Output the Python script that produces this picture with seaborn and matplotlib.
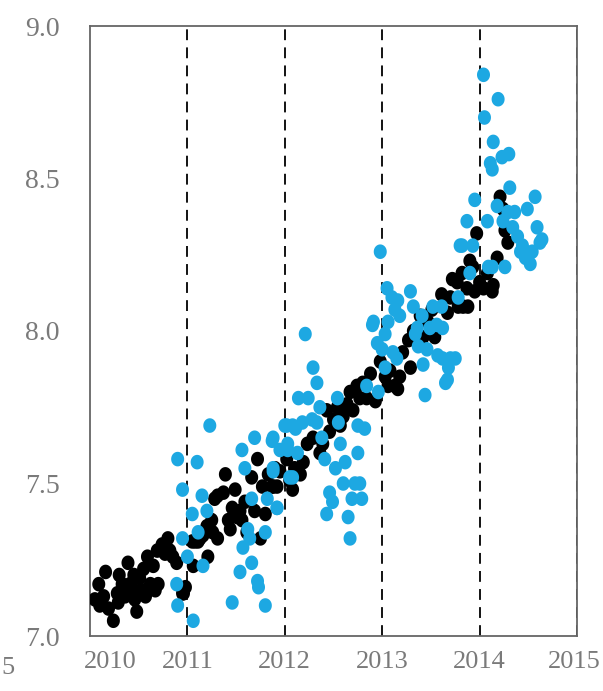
import numpy as np
import pandas as pd
import seaborn as sns
import matplotlib
matplotlib.use("Agg")
import matplotlib.pyplot as plt
from matplotlib.path import Path
from matplotlib.transforms import ScaledTranslation

# ---- data ----
black_x = [2010.05, 2010.09, 2010.10, 2010.14, 2010.16, 2010.19, 2010.24, 2010.28, 2010.29, 2010.30,
           2010.33, 2010.36, 2010.39, 2010.41, 2010.43, 2010.45, 2010.46, 2010.48, 2010.51, 2010.53,
           2010.55, 2010.57, 2010.59, 2010.62, 2010.65, 2010.67, 2010.69, 2010.70, 2010.74, 2010.77,
           2010.80, 2010.82, 2010.85, 2010.89, 2010.95, 2010.96, 2010.98, 2011.05, 2011.06, 2011.08,
           2011.11, 2011.13, 2011.16, 2011.20, 2011.21, 2011.25, 2011.26, 2011.28, 2011.31, 2011.31,
           2011.37, 2011.39, 2011.42, 2011.44, 2011.46, 2011.49, 2011.51, 2011.54, 2011.56, 2011.59,
           2011.61, 2011.66, 2011.69, 2011.72, 2011.75, 2011.77, 2011.80, 2011.83, 2011.87, 2011.88,
           2011.90, 2011.92, 2011.95, 2012.02, 2012.05, 2012.08, 2012.10, 2012.16, 2012.19, 2012.23,
           2012.29, 2012.36, 2012.39, 2012.43, 2012.46, 2012.50, 2012.54, 2012.57, 2012.60, 2012.64,
           2012.67, 2012.70, 2012.74, 2012.77, 2012.80, 2012.84, 2012.88, 2012.93, 2012.98, 2013.03,
           2013.06, 2013.08, 2013.13, 2013.16, 2013.18, 2013.21, 2013.27, 2013.29, 2013.32, 2013.39,
           2013.42, 2013.47, 2013.51, 2013.54, 2013.61, 2013.67, 2013.70, 2013.72, 2013.77, 2013.78,
           2013.82, 2013.83, 2013.87, 2013.88, 2013.90, 2013.93, 2013.95, 2013.97, 2014.00, 2014.04,
           2014.08, 2014.13, 2014.14, 2014.18, 2014.21, 2014.24, 2014.26, 2014.29]
black_y = [7.12, 7.17, 7.10, 7.13, 7.21, 7.09, 7.05, 7.14, 7.11, 7.20,
           7.17, 7.13, 7.24, 7.17, 7.16, 7.20, 7.12, 7.08, 7.19, 7.15,
           7.22, 7.13, 7.26, 7.17, 7.23, 7.15, 7.28, 7.17, 7.30, 7.27,
           7.32, 7.28, 7.26, 7.24, 7.14, 7.14, 7.16, 7.31, 7.23, 7.31,
           7.31, 7.32, 7.33, 7.36, 7.26, 7.38, 7.34, 7.45, 7.32, 7.46,
           7.47, 7.53, 7.38, 7.35, 7.42, 7.48, 7.39, 7.41, 7.38, 7.44,
           7.34, 7.52, 7.41, 7.58, 7.32, 7.49, 7.40, 7.53, 7.49, 7.49,
           7.55, 7.49, 7.54, 7.58, 7.51, 7.48, 7.55, 7.53, 7.57, 7.63,
           7.65, 7.60, 7.63, 7.74, 7.67, 7.71, 7.75, 7.69, 7.72, 7.76,
           7.80, 7.74, 7.82, 7.78, 7.83, 7.78, 7.86, 7.77, 7.90, 7.85,
           7.82, 7.87, 7.82, 7.81, 7.85, 7.93, 7.97, 7.88, 8.00, 8.05,
           7.98, 8.03, 8.07, 7.98, 8.12, 8.06, 8.11, 8.17, 8.16, 8.08,
           8.19, 8.08, 8.14, 8.08, 8.23, 8.21, 8.13, 8.32, 8.16, 8.14,
           8.19, 8.13, 8.15, 8.24, 8.44, 8.40, 8.33, 8.29]

blue_x = [2010.90, 2011.10, 2010.95, 2011.15, 2011.05, 2011.20, 2010.95, 2011.11, 2011.00, 2011.16,
          2010.89, 2010.90, 2011.06, 2011.23, 2011.46, 2011.56, 2011.69, 2011.87, 2011.59, 2011.66,
          2011.82, 2011.92, 2011.62, 2011.57, 2011.64, 2011.80, 2011.66, 2011.54, 2011.72, 2011.73,
          2011.80, 2011.88, 2012.02, 2012.11, 2012.03, 2012.08, 2012.21, 2012.29, 2012.33, 2012.14,
          2012.24, 2012.36, 2012.54, 2012.00, 2012.08, 2012.18, 2012.28, 2012.33, 2011.88, 2012.03,
          2011.95, 2012.13, 2012.38, 2012.55, 2012.75, 2012.82, 2012.57, 2012.75, 2012.41, 2012.52,
          2012.62, 2012.05, 2012.60, 2012.72, 2012.77, 2012.46, 2012.49, 2012.69, 2012.79, 2012.43,
          2012.65, 2012.67, 2011.92, 2012.90, 2012.95, 2013.03, 2013.03, 2012.84, 2012.96, 2011.88,
          2012.98, 2013.05, 2013.10, 2013.16, 2013.13, 2013.29, 2013.32, 2013.18, 2012.91, 2013.06,
          2013.00, 2013.11, 2013.15, 2013.36, 2013.41, 2013.34, 2013.52, 2013.61, 2013.49, 2013.56,
          2013.62, 2013.37, 2013.46, 2013.57, 2013.62, 2013.42, 2013.70, 2013.75, 2013.68, 2013.67,
          2013.65, 2013.44, 2013.80, 2013.87, 2013.93, 2013.90, 2013.78, 2014.09, 2014.04, 2014.19,
          2014.05, 2014.14, 2014.11, 2014.13, 2014.23, 2014.30, 2014.31, 2013.95, 2014.08, 2014.18,
          2014.24, 2014.29, 2014.36, 2014.34, 2014.39, 2014.44, 2014.42, 2014.47, 2014.52, 2014.54,
          2014.49, 2014.57, 2014.59, 2014.64, 2014.62, 2013.82, 2014.13, 2014.26]
blue_y = [7.58, 7.57, 7.48, 7.46, 7.40, 7.41, 7.32, 7.34, 7.26, 7.23,
          7.17, 7.10, 7.05, 7.69, 7.11, 7.61, 7.65, 7.64, 7.55, 7.45,
          7.45, 7.42, 7.35, 7.29, 7.32, 7.34, 7.24, 7.21, 7.18, 7.16,
          7.10, 7.54, 7.69, 7.68, 7.61, 7.52, 7.99, 7.88, 7.83, 7.78,
          7.78, 7.75, 7.78, 7.69, 7.69, 7.70, 7.71, 7.70, 7.65, 7.63,
          7.61, 7.60, 7.65, 7.70, 7.69, 7.68, 7.63, 7.60, 7.58, 7.55,
          7.57, 7.52, 7.50, 7.50, 7.50, 7.47, 7.44, 7.45, 7.45, 7.40,
          7.39, 7.32, 7.42, 8.02, 7.96, 7.99, 7.88, 7.82, 7.80, 7.55,
          8.26, 8.14, 8.11, 8.10, 8.07, 8.13, 8.08, 8.05, 8.03, 8.03,
          7.94, 7.93, 7.91, 8.01, 8.05, 7.99, 8.08, 8.08, 8.01, 8.02,
          8.01, 7.95, 7.94, 7.92, 7.91, 7.89, 7.91, 7.91, 7.88, 7.84,
          7.83, 7.79, 8.28, 8.36, 8.28, 8.19, 8.11, 8.21, 8.84, 8.76,
          8.70, 8.62, 8.55, 8.53, 8.57, 8.58, 8.47, 8.43, 8.36, 8.41,
          8.36, 8.39, 8.39, 8.34, 8.31, 8.28, 8.26, 8.24, 8.22, 8.26,
          8.40, 8.44, 8.34, 8.30, 8.29, 8.28, 8.21, 8.21]

series_names = ["black", "blue"]
series_colors = ["#000000", "#1DA8E2"]
x_ticks = [2010, 2011, 2012, 2013, 2014, 2015]
x_tick_labels = ["2010", "2011", "2012", "2013", "2014", "2015"]
y_ticks = [7.0, 7.5, 8.0, 8.5, 9.0]
y_tick_labels = ["7.0", "7.5", "8.0", "8.5", "9.0"]
vlines_at = [2011, 2012, 2013, 2014, 2015]

df = pd.DataFrame({
    "year": black_x + blue_x,
    "value": black_y + blue_y,
    "series": [series_names[0]] * len(black_x) + [series_names[1]] * len(blue_x),
})

sns.set_style("white")
plt.rcParams["font.family"] = ["Liberation Serif", "DejaVu Serif"]

fig = plt.figure(figsize=(6.03, 6.91), dpi=100)
ax = fig.add_axes([90 / 603, 1 - 636 / 691, (577 - 90) / 603, (636 - 26) / 691])

# slightly vertically stretched round marker (the reference is stretched)
t = np.linspace(0, 2 * np.pi, 60)
ell = Path(np.column_stack([np.cos(t), 1.12 * np.sin(t)]), closed=True)

for xv in vlines_at:
    ax.axvline(xv, color="black", lw=1.3, ls=(0, (6, 4)), zorder=1)

sns.scatterplot(data=df, x="year", y="value", hue="series",
                palette=dict(zip(series_names, series_colors)),
                marker=ell, s=110, linewidth=0, legend=False, ax=ax, zorder=3)

ax.set_xlim(2010, 2015)
ax.set_ylim(7.0, 9.0)
ax.set_xticks(x_ticks)
ax.set_xticklabels(x_tick_labels)
ax.set_yticks(y_ticks)
ax.set_yticklabels(y_tick_labels)
ax.set_xlabel("")
ax.set_ylabel("")
ax.tick_params(axis="both", length=0, labelcolor="#7a7a7a")
ax.tick_params(axis="y", pad=22, labelsize=20)
ax.tick_params(axis="x", pad=11, labelsize=19)

# first x label sits to the right of its tick in the reference
lbl = ax.get_xticklabels()[0]
lbl.set_transform(lbl.get_transform() + ScaledTranslation(0.20, 0, fig.dpi_scale_trans))
# last x label kept inside the canvas
lbl = ax.get_xticklabels()[-1]
lbl.set_transform(lbl.get_transform() + ScaledTranslation(-0.03, 0, fig.dpi_scale_trans))

for sp in ax.spines.values():
    sp.set_color("#666666")
    sp.set_linewidth(1.3)

fig.text(1 / 603, 1 - 668 / 691, "5", ha="left", va="center",
         fontsize=19, color="#7a7a7a")

fig.savefig("out.png", dpi=100)
